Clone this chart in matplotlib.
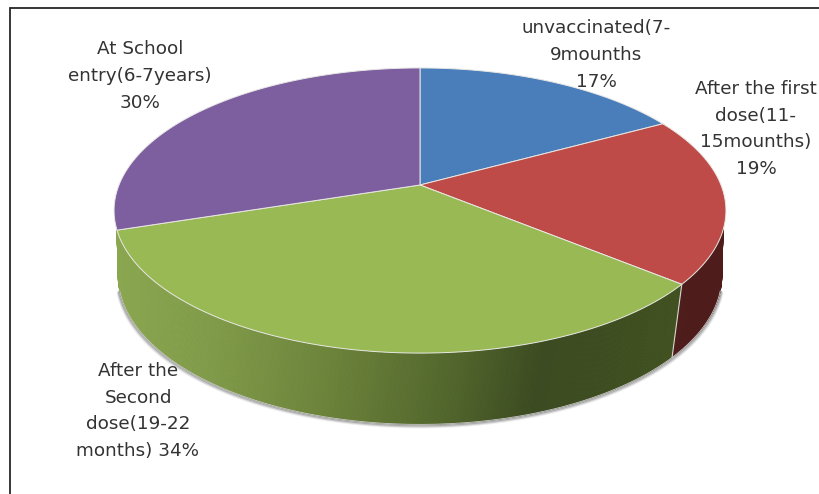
"""3D-looking vaccination pie chart, drawn in pixel coordinates."""

import matplotlib
matplotlib.use("Agg")
import matplotlib.pyplot as plt
import numpy as np
from matplotlib.collections import PolyCollection
from matplotlib.colors import LinearSegmentedColormap

values = [17, 19, 34, 30]
labels = [
    "unvaccinated(7-\n9mounths\n17%",
    "After the first\ndose(11-\n15mounths)\n19%",
    "After the\nSecond\ndose(19-22\nmonths) 34%",
    "At School\nentry(6-7years)\n30%",
]
top_colors = ["#4a7ebb", "#be4b48", "#98b954", "#7d5fa0"]
side_colors = ["#2c4c70", "#4d1c1b", None, "#4b3960"]
label_pos = [(596, 55), (756, 129), (138, 411), (140, 76)]

green_side = LinearSegmentedColormap.from_list(
    "green_side",
    [(0.0, "#8aa64f"), (0.17, "#7f9a48"), (0.37, "#6c833a"), (0.60, "#50642b"),
     (0.75, "#3b4a20"), (1.0, "#40501f")],
)

CX, CY = 420, 185
K = 0.179
LOW_SHIFT = np.radians(2)


def rim(theta, r_x, s_y, y0):
    # perspective view of the pie disc, theta clockwise from the top
    u, v = np.sin(theta), np.cos(theta)
    w = 1 + K * v
    return CX + r_x * u / w, y0 - s_y * v / w


def top_rim(theta):
    return rim(theta, 301, 138, CY)


def low_rim(theta):
    return rim(theta, 297, 144, 249)


fig = plt.figure(figsize=(8.19, 4.94), dpi=100)
ax = fig.add_axes([0, 0, 1, 1])
ax.set_xlim(0, 819)
ax.set_ylim(494, 0)
ax.axis("off")

# frame (only the left and top edges show in the crop)
ax.plot([10, 10, 819], [494, 8, 8], color="#262626", lw=1.3, solid_joinstyle="miter")

edges = np.cumsum([0] + values) / sum(values) * 2 * np.pi

# low rim runs further round than the top edge it hangs from, so the wall
# reaches the silhouette on both sides
LOW_START, LOW_END = np.radians(100), np.radians(262)
TOP_START, TOP_END = np.radians(108), edges[3]

# soft shadow under the rim
t = np.linspace(np.radians(106), np.radians(254), 200)
lx, ly = low_rim(t)
for off, alpha in [(3.0, 0.10), (2.0, 0.20), (1.0, 0.35)]:
    ax.plot(lx + off * np.sin(t) * 0.7, ly + off, color="#555555", alpha=alpha, lw=1.5)

# side wall, in thin strips so the green part can carry its gradient
polys, cols = [], []
steps = np.linspace(LOW_START, LOW_END, 400)
for a, b in zip(steps[:-1], steps[1:]):
    ta, tb = np.clip([a - LOW_SHIFT, b - LOW_SHIFT], TOP_START, TOP_END)
    i = np.searchsorted(edges, (a + b) / 2 - LOW_SHIFT) - 1
    i = min(i, 2)
    tx0, ty0 = top_rim(ta)
    tx1, ty1 = top_rim(tb)
    bx0, by0 = low_rim(a)
    bx1, by1 = low_rim(b)
    polys.append([(tx0, ty0), (tx1, ty1), (bx1, by1), (bx0, by0)])
    if side_colors[i] is None:
        cols.append(green_side(np.clip(((tx0 + bx0) / 2 - 118) / (680 - 118), 0, 1)))
    else:
        cols.append(side_colors[i])
ax.add_collection(PolyCollection(polys, facecolors=cols, edgecolors=cols, linewidths=0.6))

# seam between red and green walls, and lower rim highlight
sx0, sy0 = top_rim(edges[2])
sx1, sy1 = low_rim(edges[2] + LOW_SHIFT)
ax.plot([sx0, sx1], [sy0, sy1], color="#d8d8d0", lw=0.8)
ax.plot(lx, ly, color="#c8c8c8", lw=0.6)

# top face
for i, color in enumerate(top_colors):
    t = np.linspace(edges[i], edges[i + 1], 150)
    x, y = top_rim(t)
    ax.fill(np.r_[CX, x], np.r_[CY, y], facecolor=color, edgecolor="#e8e8e4", lw=0.7, joinstyle="round")

for text, (x, y) in zip(labels, label_pos):
    ax.text(x, y, text, ha="center", va="center", fontsize=13.2, color="#333333",
            family="DejaVu Sans", linespacing=1.63)

fig.savefig("out.png", dpi=100)
